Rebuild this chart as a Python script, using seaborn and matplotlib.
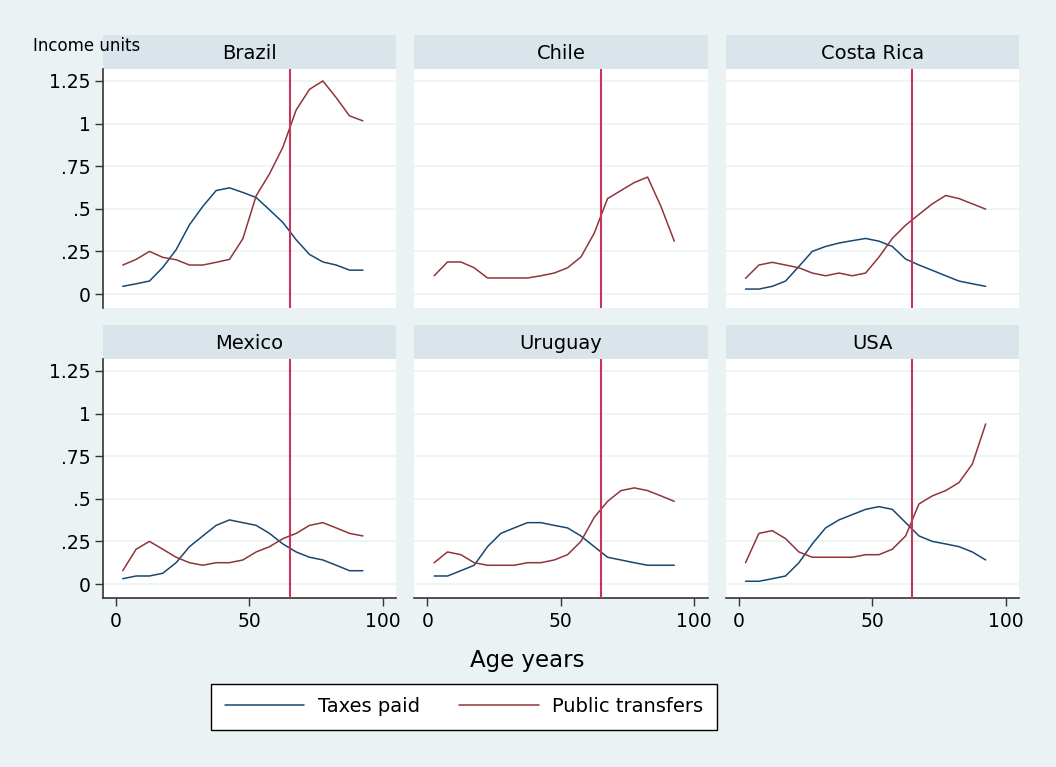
import matplotlib
matplotlib.use("Agg")
import matplotlib.pyplot as plt
import seaborn as sns
import pandas as pd
from matplotlib.patches import Rectangle

# Data (5-year age group midpoints) __________________________________
ages = [2.5, 7.5, 12.5, 17.5, 22.5, 27.5, 32.5, 37.5, 42.5, 47.5,
        52.5, 57.5, 62.5, 67.5, 72.5, 77.5, 82.5, 87.5, 92.5]

countries = ["Brazil", "Chile", "Costa Rica", "Mexico", "Uruguay", "USA"]

brazil_taxes = [0.045, 0.06, 0.076, 0.156, 0.26, 0.406, 0.514, 0.607, 0.623, 0.596,
                0.566, 0.494, 0.42, 0.318, 0.232, 0.188, 0.17, 0.14, 0.14]
brazil_transfers = [0.17, 0.203, 0.25, 0.215, 0.201, 0.17, 0.17, 0.186, 0.203, 0.324,
                    0.576, 0.705, 0.861, 1.08, 1.201, 1.25, 1.152, 1.045, 1.016]

chile_taxes = None
chile_transfers = [0.107, 0.188, 0.188, 0.154, 0.094, 0.094, 0.094, 0.094, 0.107, 0.123,
                   0.154, 0.217, 0.357, 0.56, 0.607, 0.654, 0.686, 0.514, 0.31]

costa_rica_taxes = [0.029, 0.029, 0.045, 0.076, 0.162, 0.25, 0.279, 0.299, 0.313, 0.326,
                    0.31, 0.279, 0.205, 0.17, 0.139, 0.107, 0.076, 0.06, 0.045]
costa_rica_transfers = [0.092, 0.17, 0.186, 0.17, 0.154, 0.123, 0.107, 0.123, 0.107, 0.123,
                        0.217, 0.326, 0.404, 0.467, 0.529, 0.578, 0.56, 0.529, 0.498]

mexico_taxes = [0.031, 0.047, 0.047, 0.063, 0.125, 0.219, 0.282, 0.344, 0.376, 0.36,
                0.344, 0.297, 0.235, 0.188, 0.157, 0.141, 0.11, 0.078, 0.078]
mexico_transfers = [0.078, 0.204, 0.25, 0.204, 0.157, 0.125, 0.11, 0.125, 0.125, 0.141,
                    0.188, 0.219, 0.266, 0.297, 0.344, 0.36, 0.329, 0.297, 0.282]

uruguay_taxes = [0.047, 0.047, 0.078, 0.11, 0.219, 0.297, 0.329, 0.36, 0.36, 0.344,
                 0.329, 0.282, 0.219, 0.157, 0.141, 0.125, 0.11, 0.11, 0.11]
uruguay_transfers = [0.125, 0.188, 0.172, 0.125, 0.11, 0.11, 0.11, 0.125, 0.125, 0.141,
                     0.172, 0.25, 0.391, 0.485, 0.548, 0.564, 0.548, 0.517, 0.485]

usa_taxes = [0.016, 0.016, 0.031, 0.047, 0.125, 0.235, 0.329, 0.376, 0.407, 0.438,
             0.454, 0.438, 0.36, 0.282, 0.25, 0.235, 0.219, 0.188, 0.141]
usa_transfers = [0.125, 0.297, 0.313, 0.266, 0.188, 0.157, 0.157, 0.157, 0.157, 0.172,
                 0.172, 0.204, 0.282, 0.47, 0.517, 0.548, 0.595, 0.704, 0.939]

taxes = [brazil_taxes, chile_taxes, costa_rica_taxes, mexico_taxes, uruguay_taxes, usa_taxes]
transfers = [brazil_transfers, chile_transfers, costa_rica_transfers,
             mexico_transfers, uruguay_transfers, usa_transfers]

y_ticks = [0, 0.25, 0.5, 0.75, 1, 1.25]
y_tick_labels = ["0", ".25", ".5", ".75", "1", "1.25"]
x_ticks = [0, 50, 100]
retirement_age = 65

# Long table for seaborn
rows = []
for country, tax, tr in zip(countries, taxes, transfers):
    if tax is not None:
        rows += [(country, "Taxes paid", a, v) for a, v in zip(ages, tax)]
    rows += [(country, "Public transfers", a, v) for a, v in zip(ages, tr)]
df = pd.DataFrame(rows, columns=["country", "series", "age", "value"])

BG = "#EAF2F3"
STRIP = "#D9E5EB"
AXIS = "#333333"
palette = {"Taxes paid": "#1a476f", "Public transfers": "#90353b"}

sns.set_theme(style="white")
plt.rcParams["font.family"] = ["DejaVu Sans"]
plt.rcParams["text.color"] = "black"

fig, axes = plt.subplots(2, 3, figsize=(10.56, 7.67), dpi=100, facecolor=BG)
fig.subplots_adjust(left=0.0973, right=0.965, top=0.910, bottom=0.2197,
                    wspace=0.061, hspace=0.211)

for i, (ax, country) in enumerate(zip(axes.flat, countries)):
    row, col = divmod(i, 3)
    ax.set_facecolor("white")
    sub = df[df["country"] == country]
    sns.lineplot(data=sub, x="age", y="value", hue="series", palette=palette,
                 linewidth=1.1, ax=ax, legend=False, zorder=3)
    ax.axvline(retirement_age, color="#c8345c", linewidth=1.5, zorder=4)

    ax.set_xlim(-5, 105)
    ax.set_ylim(-0.085, 1.32)
    ax.set_yticks(y_ticks)
    ax.set_xticks(x_ticks)
    for yv in y_ticks:
        ax.axhline(yv, color=BG, linewidth=1.1, zorder=1)
    ax.set_xlabel("")
    ax.set_ylabel("")

    for s in ax.spines.values():
        s.set_visible(False)

    if col == 0:
        ax.spines["left"].set_visible(True)
        ax.spines["left"].set_color(AXIS)
        ax.spines["left"].set_linewidth(1.2)
        ax.set_yticklabels(y_tick_labels)
        ax.tick_params(axis="y", left=True, length=5.5, width=1, color=AXIS,
                       labelsize=13.5, pad=3, labelcolor="black")
    else:
        ax.tick_params(axis="y", left=False, labelleft=False)

    if row == 1:
        ax.spines["bottom"].set_visible(True)
        ax.spines["bottom"].set_color(AXIS)
        ax.spines["bottom"].set_linewidth(1.2)
        ax.tick_params(axis="x", bottom=True, length=6, width=1, color=AXIS,
                       labelsize=13.5, pad=4, labelcolor="black")
    else:
        ax.tick_params(axis="x", bottom=False, labelbottom=False)

    # Stata-like strip title
    strip_h = 34 / 239.7
    ax.add_patch(Rectangle((0, 1), 1, strip_h, transform=ax.transAxes,
                           facecolor=STRIP, edgecolor="none", clip_on=False))
    ax.text(0.5, 1 + strip_h / 2 - 0.005, country, transform=ax.transAxes,
            ha="center", va="center", fontsize=14, color="black")

fig.text(33 / 1056, 1 - 46 / 767, "Income units", fontsize=12, ha="left",
         va="center", color="black")
fig.text(527 / 1056, 1 - 660 / 767, "Age years", fontsize=16.5, ha="center",
         va="center", color="black")

handles = [plt.Line2D([], [], color=palette[k], linewidth=1.1) for k in palette]
leg = fig.legend(handles, list(palette.keys()), loc="center",
                 bbox_to_anchor=(464 / 1056, 1 - 706.7 / 767), ncol=2,
                 frameon=True, fancybox=False, fontsize=14,
                 handlelength=4.1, handletextpad=0.7, columnspacing=2.0,
                 borderpad=0.7, borderaxespad=0)
for t in leg.get_texts():
    t.set_color("black")
leg.get_frame().set_edgecolor("black")
leg.get_frame().set_linewidth(1.0)
leg.get_frame().set_facecolor("white")
leg.get_frame().set_alpha(1)

fig.savefig("out.png", dpi=100, facecolor=fig.get_facecolor())
